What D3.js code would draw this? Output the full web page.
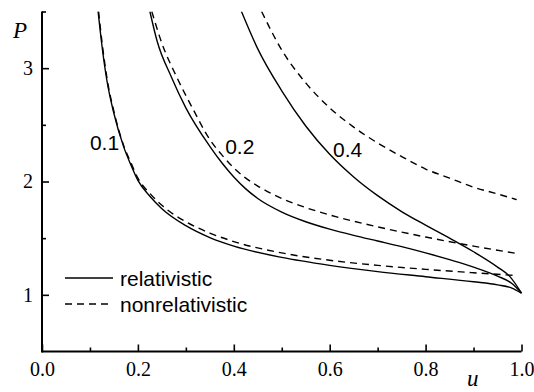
<!DOCTYPE html>
<html>
<head>
<meta charset="utf-8">
<script src="https://cdn.jsdelivr.net/npm/d3@7"></script>
<style>
body { margin: 0; background: #fff; }
text { fill: #000; }
</style>
</head>
<body>
<svg width="534" height="392"></svg>
<script>
// values
var uRel01 = [0.117, 0.125, 0.135, 0.15, 0.17, 0.185, 0.20, 0.225, 0.25, 0.30, 0.35, 0.40, 0.50, 0.60, 0.70, 0.80, 0.90, 0.95, 0.98, 1.00];
var pRel01 = [3.50, 3.20, 2.90, 2.60, 2.31, 2.15, 2.01, 1.87, 1.76, 1.61, 1.505, 1.43, 1.33, 1.26, 1.205, 1.16, 1.115, 1.088, 1.06, 1.015];
var uNon01 = [0.118, 0.126, 0.136, 0.151, 0.171, 0.186, 0.20, 0.225, 0.25, 0.30, 0.35, 0.40, 0.50, 0.60, 0.70, 0.80, 0.90, 0.99];
var pNon01 = [3.50, 3.20, 2.90, 2.60, 2.31, 2.16, 2.03, 1.895, 1.79, 1.645, 1.545, 1.47, 1.37, 1.305, 1.26, 1.225, 1.195, 1.17];

var uRel02 = [0.225, 0.24, 0.27, 0.30, 0.35, 0.375, 0.40, 0.425, 0.45, 0.50, 0.55, 0.60, 0.65, 0.70, 0.75, 0.80, 0.85, 0.90, 0.95, 0.98, 1.00];
var pRel02 = [3.50, 3.24, 2.92, 2.65, 2.31, 2.165, 2.04, 1.935, 1.85, 1.73, 1.645, 1.58, 1.525, 1.475, 1.425, 1.37, 1.31, 1.245, 1.165, 1.10, 1.015];
var uNon02 = [0.229, 0.25, 0.28, 0.316, 0.35, 0.375, 0.40, 0.425, 0.45, 0.50, 0.55, 0.60, 0.70, 0.80, 0.90, 0.99];
var pNon02 = [3.50, 3.22, 2.93, 2.63, 2.37, 2.235, 2.12, 2.03, 1.96, 1.85, 1.77, 1.705, 1.60, 1.51, 1.43, 1.365];

var uRel04 = [0.416, 0.45, 0.50, 0.55, 0.60, 0.65, 0.70, 0.75, 0.80, 0.85, 0.90, 0.95, 0.975, 1.00];
var pRel04 = [3.50, 3.17, 2.80, 2.49, 2.24, 2.04, 1.875, 1.735, 1.615, 1.50, 1.38, 1.245, 1.165, 1.015];
var uNon04 = [0.458, 0.50, 0.55, 0.60, 0.65, 0.70, 0.75, 0.80, 0.85, 0.90, 0.95, 0.99];
var pNon04 = [3.50, 3.16, 2.87, 2.65, 2.48, 2.34, 2.22, 2.11, 2.03, 1.95, 1.89, 1.84];

var curveNames = ["0.1", "0.2", "0.4"];
var labelU = [0.10, 0.382, 0.607];
var labelP = [2.28, 2.24, 2.22];

var xMajor = [0, 0.2, 0.4, 0.6, 0.8, 1.0];
var xMinor = [0.1, 0.3, 0.5, 0.7, 0.9];
var yMajor = [1, 2, 3];
var yMinor = [1.5, 2.5, 3.5];

var svg = d3.select("svg");

var x = d3.scaleLinear().domain([0, 1]).range([42, 521.5]);
var y = d3.scaleLinear().domain([0.5, 3.5]).range([351.5, 11.5]);

function zip(us, ps) {
	return us.map(function(u, i) { return {u: u, p: ps[i]}; });
}

var series = [
	{pts: zip(uRel01, pRel01), dash: null},
	{pts: zip(uNon01, pNon01), dash: "7,5"},
	{pts: zip(uRel02, pRel02), dash: null},
	{pts: zip(uNon02, pNon02), dash: "7,5"},
	{pts: zip(uRel04, pRel04), dash: null},
	{pts: zip(uNon04, pNon04), dash: "7,5"}
];

var line = d3.line()
	.x(function(d) { return x(d.u); })
	.y(function(d) { return y(d.p); })
	.curve(d3.curveMonotoneX);

svg.append("clipPath").attr("id", "clip")
	.append("rect").attr("x", 42).attr("y", 11.5).attr("width", 480).attr("height", 340);

svg.append("g").attr("clip-path", "url(#clip)")
	.selectAll("path")
	.data(series)
	.enter().append("path")
		.attr("d", function(d) { return line(d.pts); })
		.attr("fill", "none")
		.attr("stroke", "#000")
		.attr("stroke-width", 1.4)
		.attr("stroke-dasharray", function(d) { return d.dash; });

//axes, ticks point inward
var fmt = d3.format(".1f");
svg.append("g").attr("transform", "translate(0," + y(0.5) + ")")
	.call(d3.axisBottom(x).tickValues(xMajor).tickSize(-7).tickPadding(10).tickFormat(fmt));
svg.append("g").attr("transform", "translate(0," + y(0.5) + ")")
	.call(d3.axisBottom(x).tickValues(xMinor).tickSize(-4).tickFormat(""));

svg.append("g").attr("transform", "translate(" + x(0) + ",0)")
	.call(d3.axisLeft(y).tickValues(yMajor).tickSize(-7).tickPadding(9).tickFormat(d3.format("d")));
svg.append("g").attr("transform", "translate(" + x(0) + ",0)")
	.call(d3.axisLeft(y).tickValues(yMinor).tickSize(-4).tickFormat(""));

svg.selectAll(".tick line").attr("stroke-width", 1.6);
svg.selectAll(".tick text")
	.attr("font-family", "Liberation Serif, Times New Roman, serif")
	.attr("font-size", 20);

// plain axis lines instead of the default domain paths
svg.selectAll(".domain").remove();
svg.append("line").attr("x1", x(0)).attr("x2", x(1)).attr("y1", y(0.5)).attr("y2", y(0.5))
	.attr("stroke", "#000").attr("stroke-width", 2);
svg.append("line").attr("x1", x(0)).attr("x2", x(0)).attr("y1", y(0.5) + 1).attr("y2", y(3.5))
	.attr("stroke", "#000").attr("stroke-width", 2);

//axis titles
svg.append("text").attr("x", 13).attr("y", 38)
	.attr("font-family", "Liberation Serif, Times New Roman, serif")
	.attr("font-style", "italic").attr("font-size", 23)
	.text("P");
svg.append("text").attr("x", 467).attr("y", 386)
	.attr("font-family", "Liberation Serif, Times New Roman, serif")
	.attr("font-style", "italic").attr("font-size", 23)
	.text("u");

//curve labels
svg.selectAll(".clabel")
	.data(curveNames)
	.enter().append("text")
		.attr("class", "clabel")
		.attr("x", function(d, i) { return x(labelU[i]); })
		.attr("y", function(d, i) { return y(labelP[i]); })
		.attr("font-family", "Liberation Sans, Arial, sans-serif")
		.attr("font-size", 21)
		.text(function(d) { return d; });

//legend
var legend = svg.append("g").attr("transform", "translate(65,278)");
var legendItems = [{name: "relativistic", dash: null}, {name: "nonrelativistic", dash: "7,5"}];
var li = legend.selectAll("g")
	.data(legendItems)
	.enter().append("g")
		.attr("transform", function(d, i) { return "translate(0," + i * 26 + ")"; });
li.append("line")
	.attr("x1", 0).attr("x2", function(d) { return d.dash ? 44 : 48; })
	.attr("stroke", "#000").attr("stroke-width", 1.4)
	.attr("stroke-dasharray", function(d) { return d.dash; });
li.append("text")
	.attr("x", 55).attr("y", 8)
	.attr("font-family", "Liberation Sans, Arial, sans-serif")
	.attr("font-size", 21)
	.text(function(d) { return d.name; });
</script>
</body>
</html>
